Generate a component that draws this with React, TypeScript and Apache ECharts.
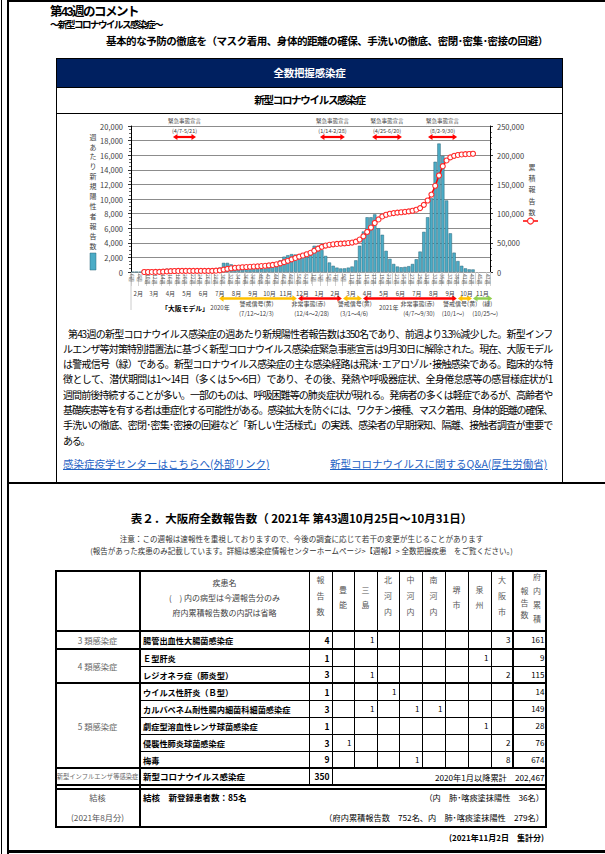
import React, { useEffect, useRef } from 'react';
import * as echarts from 'echarts';

const FONT = "'Noto Sans CJK JP', 'Noto Sans', sans-serif";
const TIGHT_FONT = "'Liberation Sans', 'Noto Sans CJK JP', sans-serif";

// ===== chart data =====
const weekLabels2020 = ['6週','7週','8週','9週','10週','11週','12週','13週','14週','15週','16週','17週','18週','19週','20週','21週','22週','23週','24週','25週','26週','27週','28週','29週','30週','31週','32週','33週','34週','35週','36週','37週','38週','39週','40週','41週','42週','43週','44週','45週','46週','47週','48週','49週','50週','51週','52週','53週'];
const weekLabels2021 = ['1週','2週','3週','4週','5週','6週','7週','8週','9週','10週','11週','12週','13週','14週','15週','16週','17週','18週','19週','20週','21週','22週','23週','24週','25週','26週','27週','28週','29週','30週','31週','32週','33週','34週','35週','36週','37週','38週','39週','40週','41週','42週','43週','44週','45週','46週','47週'];

// weekly new positive reports
const newCases2020 = [0,0,0,1,10,40,60,130,300,450,420,280,120,40,10,5,5,5,5,10,20,60,250,600,1250,1250,1050,750,550,450,400,400,400,400,450,500,600,800,1100,1600,2100,2300,2450,2400,2250,2050,2100,2450];
const newCases2021 = [3600,3600,3000,2200,1300,850,600,484,500,600,750,1600,3600,5550,7500,7500,7900,6000,5100,2900,1800,1100,750,650,700,800,1100,1750,2800,5500,7500,10100,15100,17600,15900,9800,5300,2650,1500,850,500,362,350];

// cumulative reports
const cumulative2020 = [null,null,null,1,11,51,111,241,541,991,1411,1691,1811,1851,1861,1866,1871,1876,1881,1891,1911,1971,2221,2821,4071,5321,6371,7121,7671,8121,8521,8921,9321,9721,10171,10671,11271,12071,13171,14771,16871,19171,21621,24021,26271,28321,30421,32871];
const cumulative2021 = [36471,40071,43071,45271,46571,47421,48021,48505,49005,49605,50355,51955,55555,61105,68605,76105,84005,90005,95105,98005,99805,100905,101655,102305,103005,103805,104905,106655,109455,114955,122455,132555,147655,165255,181155,190955,196255,198905,200405,201255,201755,202117,202467];

// month row (in weeks counted from the start of 2020 week 6)
const monthNames = ['2月','3月','4月','5月','6月','7月','8月','9月','10月','11月','12月','1月','2月','3月','4月','5月','6月','7月','8月','9月','10月','11月'];
const monthStartWeeks = [0,3.857,8.286,12.571,17,21.286,25.714,30.143,34.429,38.857,43.143,47.571,52,56,60.429,64.714,69.143,73.429,77.857,82.286,86.571,91,95];

// 緊急事態宣言 periods (week units, as drawn)
const emergencyPeriods = [
  { label: '(4/7-5/21)', from: 11.1, to: 17.2 },
  { label: '(1/14-2/28)', from: 50.0, to: 56.6 },
  { label: '(4/25-6/20)', from: 63.8, to: 71.7 },
  { label: '(8/2-9/30)', from: 78.6, to: 86.3 },
];
// 大阪モデル signal periods
const osakaModelPeriods = [
  { level: 'yellow', from: 23.3, to: 43.9 },
  { level: 'red', from: 44.2, to: 55.8 },
  { level: 'yellow', from: 56.1, to: 61.1 },
  { level: 'red', from: 61.4, to: 86.2 },
  { level: 'yellow', from: 86.5, to: 90.2 },
  { level: 'green', from: 90.5, to: 95.6 },
];
const osakaModelLabels = [
  { text: '警戒信号(黄)', at: 33.2, row: 0 },
  { text: '(7/12～12/3)', at: 33.2, row: 1 },
  { text: '非常事態(赤)', at: 47.0, row: 0 },
  { text: '(12/4～2/28)', at: 47.8, row: 1 },
  { text: '警戒信号(黄)', at: 59.2, row: 0 },
  { text: '(3/1～4/6)', at: 59.0, row: 1 },
  { text: '非常事態(赤)', at: 75.8, row: 0 },
  { text: '(4/7～9/30)', at: 76.2, row: 1 },
  { text: '警戒信号(黄)', at: 87.1, row: 0 },
  { text: '(10/1～)', at: 85.2, row: 1 },
  { text: '(緑)', at: 94.3, row: 0 },
  { text: '(10/25～)', at: 93.7, row: 1 },
];
const signalColors: Record<string, string> = { yellow: '#FFC000', red: '#FF0000', green: '#92D050' };

// ===== table data =====
const areaNames = ['豊能', '三島', '北河内', '中河内', '南河内', '堺市', '泉州', '大阪市'];
const diseaseNames = ['腸管出血性大腸菌感染症', 'Ｅ型肝炎', 'レジオネラ症（肺炎型）', 'ウイルス性肝炎（Ｂ型）', 'カルバペネム耐性腸内細菌科細菌感染症', '劇症型溶血性レンサ球菌感染症', '侵襲性肺炎球菌感染症', '梅毒'];
const weeklyTotals = [4, 1, 3, 1, 3, 1, 3, 9];
const areaCounts = [
  [null, 1, null, null, null, null, null, 3],
  [null, null, null, null, null, null, 1, null],
  [null, 1, null, null, null, null, null, 2],
  [null, null, 1, null, null, null, null, null],
  [null, 1, null, 1, 1, null, null, null],
  [null, null, null, null, null, null, 1, null],
  [1, null, null, null, null, null, null, 2],
  [null, null, null, 1, null, null, null, 8],
];
const cumulativeTotals = [161, 9, 115, 14, 149, 28, 76, 674];

const paragraphLines = [
  '第43週の新型コロナウイルス感染症の週あたり新規陽性者報告数は350名であり、前週より3.3%減少した。新型インフ',
  'ルエンザ等対策特別措置法に基づく新型コロナウイルス感染症緊急事態宣言は9月30日に解除された。現在、大阪モデル',
  'は警戒信号（緑）である。新型コロナウイルス感染症の主な感染経路は飛沫･エアロゾル･接触感染である。臨床的な特',
  '徴として、潜伏期間は1～14日（多くは 5～6日）であり、その後、発熱や呼吸器症状、全身倦怠感等の感冒様症状が1',
  '週間前後持続することが多い。一部のものは、呼吸困難等の肺炎症状が現れる。発病者の多くは軽症であるが、高齢者や',
  '基礎疾患等を有する者は重症化する可能性がある。感染拡大を防ぐには、ワクチン接種、マスク着用、身体的距離の確保、',
  '手洗いの徹底、密閉･密集･密接の回避など「新しい生活様式」の実践、感染者の早期探知、隔離、接触者調査が重要で',
  'ある。',
];

function arrow(x1: number, x2: number, y: number, color: string, lw: number, hl: number, hh: number) {
  return [
    { type: 'line', silent: true, shape: { x1: x1 + hl * 0.8, y1: y, x2: x2 - hl * 0.8, y2: y }, style: { stroke: color, lineWidth: lw } },
    { type: 'polygon', silent: true, shape: { points: [[x1, y], [x1 + hl, y - hh / 2], [x1 + hl, y + hh / 2]] }, style: { fill: color } },
    { type: 'polygon', silent: true, shape: { points: [[x2, y], [x2 - hl, y - hh / 2], [x2 - hl, y + hh / 2]] }, style: { fill: color } },
  ];
}

function gtext(t: string, x: number, y: number, o: any = {}) {
  return {
    type: 'text', x, y, silent: true,
    style: { text: t, fontSize: 6, fontFamily: FONT, fill: '#404040', align: 'center', verticalAlign: 'middle', ...o },
  };
}

function CovidChart() {
  const ref = useRef<HTMLDivElement>(null);
  useEffect(() => {
    const chart = echarts.init(ref.current as HTMLDivElement, null, { renderer: 'svg' });
    const weekLabels = [...weekLabels2020, ...weekLabels2021];
    const newCases = [...newCases2020, ...newCases2021];
    const cumulative = [...cumulative2020, ...cumulative2021];
    const monthCenters = monthNames.map((_, i) => (monthStartWeeks[i] + monthStartWeeks[i + 1]) / 2);
    const monthFormatter = (v: number) => {
      const i = monthCenters.findIndex((c) => Math.abs(c - v) < 1e-6);
      return i >= 0 ? monthNames[i] : '';
    };
    chart.setOption({
      animation: false,
      textStyle: { fontFamily: FONT },
      grid: { left: 74, top: 12, width: 359, height: 146, outerBoundsMode: 'none' },
      xAxis: [
        {
          type: 'category', data: weekLabels, boundaryGap: true,
          axisLine: { show: true, lineStyle: { color: '#a6a6a6', width: 1 } },
          axisTick: { show: true, interval: 1, length: 14, lineStyle: { color: '#c8c8c8', width: 0.8 } },
          axisLabel: { interval: 1, rotate: -90, fontSize: 5, color: '#595959', margin: 2, fontFamily: FONT },
          splitLine: { show: false },
        },
        {
          type: 'value', min: 0, max: 95, position: 'bottom', offset: 14,
          axisLine: { show: false },
          splitLine: { show: false },
          axisTick: { show: true, customValues: monthStartWeeks, length: 12, lineStyle: { color: '#c8c8c8', width: 0.8 } },
          axisLabel: { customValues: monthCenters, formatter: monthFormatter, fontSize: 6, color: '#404040', margin: 4, fontFamily: FONT },
        },
      ],
      yAxis: [
        {
          type: 'value', min: 0, max: 20000, interval: 2000, position: 'left',
          axisLine: { show: true, lineStyle: { color: '#000', width: 1 } },
          axisTick: { show: true, length: 3, lineStyle: { color: '#000', width: 0.8 } },
          minorTick: { show: true, splitNumber: 4, length: 2, lineStyle: { color: '#000', width: 0.6 } },
          splitLine: { show: true, lineStyle: { color: '#8c8c8c', width: 1.2 } },
          axisLabel: { fontSize: 7.5, color: '#404040', margin: 8, fontFamily: FONT },
        },
        {
          type: 'value', min: 0, max: 250000, interval: 50000, position: 'right',
          axisLine: { show: true, lineStyle: { color: '#000', width: 1 } },
          axisTick: { show: true, length: 3, lineStyle: { color: '#000', width: 0.8 } },
          minorTick: { show: true, splitNumber: 5, length: 2, lineStyle: { color: '#000', width: 0.6 } },
          splitLine: { show: false },
          axisLabel: { fontSize: 7.5, color: '#404040', margin: 7, fontFamily: FONT },
        },
      ],
      series: [
        {
          type: 'bar', name: '週あたり新規陽性者報告数', data: newCases, xAxisIndex: 0, yAxisIndex: 0,
          barCategoryGap: '12%',
          itemStyle: { color: '#4BACC6', borderColor: '#2A6478', borderWidth: 0.5 },
        },
        {
          type: 'line', name: '累積報告数', data: cumulative, xAxisIndex: 0, yAxisIndex: 1,
          symbol: 'circle', symbolSize: 5, showAllSymbol: true, z: 3,
          lineStyle: { color: '#FF0000', width: 1.5 },
          itemStyle: { color: '#ffffff', borderColor: '#FF2A2A', borderWidth: 1.1 },
        },
      ],
    });

    const px = (w: number) => chart.convertToPixel({ xAxisIndex: 1 }, w) as number;
    const el: any[] = [];
    // left axis name + legend swatch
    el.push({
      type: 'text', x: 36, y: 17.7, silent: true,
      style: { text: '週あたり新規陽性者報告数'.split('').join('\n'), fontSize: 7, lineHeight: 9.9, fontFamily: FONT, fill: '#404040', align: 'center', verticalAlign: 'top' },
    });
    el.push({ type: 'rect', silent: true, shape: { x: 33, y: 139, width: 6, height: 17 }, style: { fill: '#4BACC6', stroke: '#2A6478', lineWidth: 0.5 } });
    // right axis name + legend
    el.push({
      type: 'text', x: 475, y: 47, silent: true,
      style: { text: '累積報告数'.split('').join('\n'), fontSize: 7, lineHeight: 11.3, fontFamily: FONT, fill: '#404040', align: 'center', verticalAlign: 'top' },
    });
    el.push({ type: 'line', silent: true, shape: { x1: 466, y1: 107, x2: 481, y2: 107 }, style: { stroke: '#FF0000', lineWidth: 1.5 } });
    el.push({ type: 'circle', silent: true, shape: { cx: 473.5, cy: 107, r: 3 }, style: { fill: '#fff', stroke: '#FF2A2A', lineWidth: 1.2 } });

    // emergency declarations
    emergencyPeriods.forEach((p) => {
      const x1 = px(p.from);
      const x2 = px(p.to);
      const cx = (x1 + x2) / 2;
      el.push(gtext('緊急事態宣言', cx, 7, { fontSize: 5.5 }));
      el.push(gtext(p.label, cx, 17, { fontSize: 5.5 }));
      el.push(...arrow(x1, x2, 23, '#FF0000', 2.2, 4.5, 6));
    });

    // year separator line + year labels
    el.push({ type: 'line', silent: true, shape: { x1: px(0), y1: 158, x2: px(0), y2: 196 }, style: { stroke: '#bfbfbf', lineWidth: 0.8 } });
    el.push(gtext('2020年', px(23.55), 193, { fontSize: 6 }));
    el.push(gtext('2021年', px(68.2), 193, { fontSize: 6 }));
    el.push(gtext('「大阪モデル」', px(14.3), 194, { fontSize: 6.8, fontWeight: 'bold', fill: '#000' }));

    // Osaka model arrows
    osakaModelPeriods.forEach((p) => {
      el.push(...arrow(px(p.from), px(p.to), 184.5, signalColors[p.level], 2.5, 4.5, 6.5));
    });
    osakaModelLabels.forEach((l) => {
      el.push(gtext(l.text, px(l.at), l.row === 0 ? 189.8 : 199.2, { fontSize: 6, backgroundColor: '#fff' }));
    });

    chart.setOption({ graphic: { elements: el } });
    return () => chart.dispose();
  }, []);
  return <div ref={ref} style={{ position: 'absolute', left: 57, top: 114, width: 505, height: 210 }} />;
}

function Box({ x, y, w, h, bg = '#000', style = {} }: any) {
  return <div style={{ position: 'absolute', left: x, top: y, width: w, height: h, background: bg, ...style }} />;
}

function Txt({ x, cy, size = 8, bold = false, color = '#000', ls = 0, align = 'left', children, style = {} }: any) {
  const h = Math.round(size * 1.5);
  const base: any = {
    position: 'absolute', top: cy - h / 2, height: h, lineHeight: h + 'px', fontSize: size,
    fontWeight: bold ? 700 : 400, color, letterSpacing: ls, whiteSpace: 'nowrap', ...style,
  };
  if (align === 'center') return <div style={{ ...base, left: x - 300, width: 600, textAlign: 'center' }}>{children}</div>;
  if (align === 'right') return <div style={{ ...base, left: x - 600, width: 600, textAlign: 'right' }}>{children}</div>;
  return <div style={{ ...base, left: x }}>{children}</div>;
}

export default function App() {
  // table layout
  const colX = [55, 140, 309, 332, 354, 377, 399, 422, 445, 468, 491, 513, 547];
  const rowCY = [640, 658, 674.5, 692, 709, 726, 743, 759.5];
  const headerCols: [string, number, number[]][] = [
    ['報告数', 320.5, [580, 596, 612]],
    [areaNames[0], 343, [590, 605]],
    [areaNames[1], 365.5, [590, 605]],
    [areaNames[2], 388, [580, 596, 612]],
    [areaNames[3], 410.5, [580, 596, 612]],
    [areaNames[4], 433.5, [580, 596, 612]],
    [areaNames[5], 456.5, [590, 605]],
    [areaNames[6], 479.5, [590, 605]],
    [areaNames[7], 502, [580, 596, 612]],
    ['報告数', 524.5, [591, 603, 615]],
    ['府内累積', 537, [577, 591, 605, 619]],
  ];
  const linkStyle = { color: '#1F62C4', textDecoration: 'underline' };

  return (
    <div style={{ position: 'absolute', left: 0, top: 0, width: 605, height: 854, background: '#fff', overflow: 'hidden', fontFamily: FONT, color: '#000' }}>
      {/* page frame */}
      <Box x={1} y={0} w={1} h={854} />
      <Box x={7} y={0} w={2} h={854} />
      <Box x={7} y={0} w={598} h={2} />
      <Box x={7} y={850} w={598} h={3} />

      {/* heading */}
      <Txt x={50} cy={12.4} size={12.5} bold ls={-1.5} style={{ fontFamily: TIGHT_FONT }}>第43週のコメント</Txt>
      <Txt x={50} cy={24.9} size={9.5} bold ls={-1.5} style={{ fontFamily: TIGHT_FONT }}>～新型コロナウイルス感染症～</Txt>
      <Txt x={106} cy={40.8} size={10.5} bold ls={-0.45}>基本的な予防の徹底を（マスク着用、身体的距離の確保、手洗いの徹底、密閉･密集･密接の回避）</Txt>

      {/* comment box */}
      <div style={{ position: 'absolute', left: 56, top: 58, width: 507, height: 426, border: '1.5px solid #000', boxSizing: 'border-box' }} />
      <Box x={57} y={59} w={505} h={28} bg="#002060" />
      <Box x={56} y={87} w={507} h={1} />
      <Box x={56} y={112.5} w={507} h={1.5} />
      <Txt x={309.5} cy={73} size={10.5} bold color="#fff" ls={-0.2} align="center">全数把握感染症</Txt>
      <Txt x={309.5} cy={100} size={10.5} bold ls={-1.3} align="center">新型コロナウイルス感染症</Txt>

      <CovidChart />

      {paragraphLines.map((t, i) => (
        <div key={i} style={{
          position: 'absolute', left: i === 0 ? 68 : 63, width: i === 0 ? 484 : 489,
          top: 333 - 7.5 + i * 15.3, height: 15, lineHeight: '15px', fontSize: 10, letterSpacing: -1.2,
          textAlign: i === paragraphLines.length - 1 ? 'left' : 'justify',
          textAlignLast: i === paragraphLines.length - 1 ? 'left' : 'justify',
        }}>{t}</div>
      ))}
      <Txt x={63} cy={464} size={10.5} style={linkStyle}>感染症疫学センターはこちらへ(外部リンク)</Txt>
      <Txt x={330} cy={464} size={10.5} style={linkStyle}>新型コロナウイルスに関するQ&amp;A(厚生労働省)</Txt>

      {/* section separator */}
      <Box x={7} y={482} w={598} h={2} />

      {/* table title + notes */}
      <Txt x={301.5} cy={518} size={11.5} bold align="center">表２．大阪府全数報告数（ 2021年 第43週10月25日～10月31日）</Txt>
      <Txt x={301.5} cy={538.5} size={7.6} color="#333" align="center">注意：この週報は速報性を重視しておりますので、今後の調査に応じて若干の変更が生じることがあります</Txt>
      <Txt x={301.5} cy={550.5} size={7.5} color="#333" align="center">(報告があった疾患のみ記載しています。詳細は感染症情報センターホームページ&gt;【週報】&gt; 全数把握疾患　をご覧ください。)</Txt>

      {/* table grid */}
      <div style={{ position: 'absolute', left: 55, top: 570, width: 492, height: 258, border: '2px solid #000', boxSizing: 'border-box' }} />
      <Box x={55} y={630} w={492} h={2} />
      <Box x={55} y={648} w={492} h={2} />
      <Box x={55} y={682} w={492} h={2} />
      <Box x={55} y={767} w={492} h={2} />
      <Box x={55} y={784} w={492} h={2} />
      <Box x={55} y={788} w={492} h={2} />
      {[666, 700, 717, 734, 751].map((y) => <Box key={y} x={141} y={y} w={406} h={1} />)}
      <Box x={139} y={570} w={2} h={258} />
      <Box x={308.5} y={570} w={1} h={216} />
      <Box x={331.5} y={570} w={1.5} h={216} />
      {[353.5, 376.5, 398.5, 421.5, 444.5, 467.5, 490.5].map((x) => <Box key={x} x={x} y={570} w={1} h={199} />)}
      <Box x={512} y={570} w={2} h={199} />

      {/* header texts */}
      <Txt x={224.5} cy={583} size={8} color="#404040" align="center">疾患名</Txt>
      <Txt x={224.5} cy={598} size={8} color="#404040" align="center">(　) 内の病型は今週報告分のみ</Txt>
      <Txt x={224.5} cy={613} size={8} color="#404040" align="center">府内累積報告数の内訳は省略</Txt>
      {headerCols.map(([label, cx, ys], k) =>
        label.split('').map((c, i) => (
          <Txt key={`h${k}-${i}`} x={cx} cy={ys[i]} size={8} color="#595959" align="center">{c}</Txt>
        ))
      )}

      {/* group labels */}
      <Txt x={97.5} cy={640} size={8.3} color="#666" align="center">3 類感染症</Txt>
      <Txt x={97.5} cy={666} size={8.3} color="#666" align="center">4 類感染症</Txt>
      <Txt x={97.5} cy={725.5} size={8.3} color="#666" align="center">5 類感染症</Txt>
      <Txt x={97.5} cy={776.5} size={6.3} color="#666" align="center">新型インフルエンザ等感染症</Txt>
      <Txt x={97.5} cy={797} size={8.2} color="#555" align="center">結核</Txt>
      <Txt x={97.5} cy={817} size={8.2} color="#555" align="center">(2021年8月分)</Txt>

      {/* disease rows */}
      {diseaseNames.map((name, r) => (
        <React.Fragment key={name}>
          <Txt x={143} cy={rowCY[r]} size={8.2} bold>{name}</Txt>
          <Txt x={colX[3] - 2.5} cy={rowCY[r]} size={8.5} bold align="right">{weeklyTotals[r]}</Txt>
          {areaCounts[r].map((v, j) => (v == null ? null : (
            <Txt key={j} x={colX[4 + j] - 2.5} cy={rowCY[r]} size={8} align="right">{v}</Txt>
          )))}
          <Txt x={colX[12] - 2.5} cy={rowCY[r]} size={8} align="right">{cumulativeTotals[r]}</Txt>
        </React.Fragment>
      ))}

      {/* COVID row */}
      <Txt x={143} cy={776.5} size={8.5} bold>新型コロナウイルス感染症</Txt>
      <Txt x={329.5} cy={776.5} size={8.5} bold align="right">350</Txt>
      <Txt x={544.5} cy={776.5} size={8.2} align="right">2020年1月以降累計　202,467</Txt>

      {/* tuberculosis row */}
      <Txt x={143} cy={797} size={8.5} bold>結核　新登録患者数：85名</Txt>
      <Txt x={544} cy={797} size={8.2} align="right">（内　肺･喀痰塗抹陽性　36名）</Txt>
      <Txt x={544} cy={817} size={8.2} align="right">（府内累積報告数　752名、内　肺･喀痰塗抹陽性　279名）</Txt>

      <Txt x={544} cy={838} size={8} bold align="right">(2021年11月2日　集計分)</Txt>
    </div>
  );
}
